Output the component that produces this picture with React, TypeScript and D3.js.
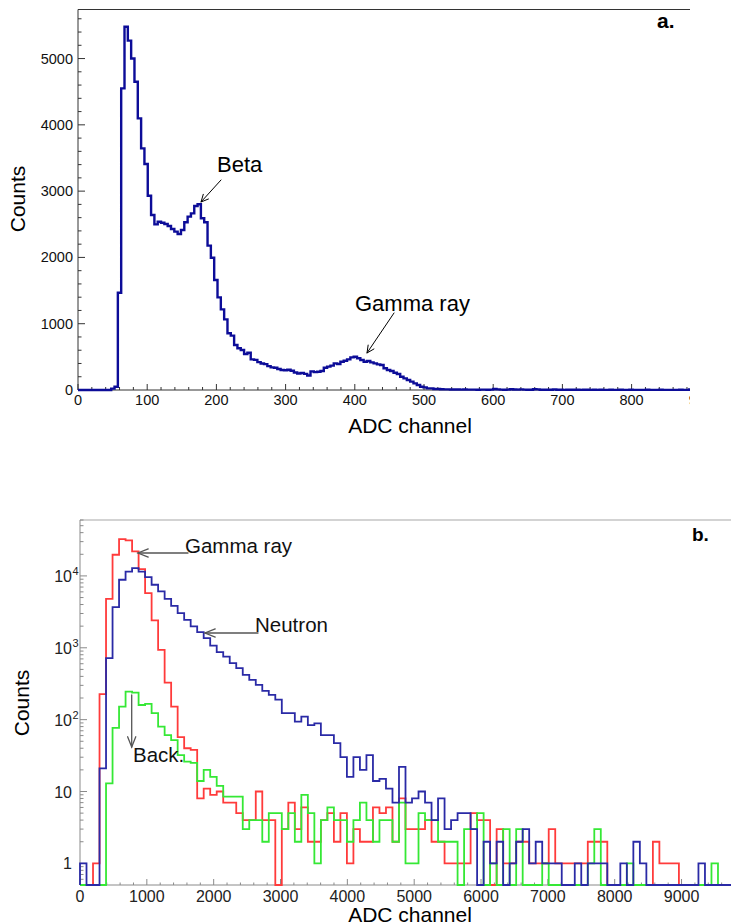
import React from 'react';
import * as d3 from 'd3';

// ---------- Panel a: single spectrum (linear counts) ----------
const SPEC_A_BIN_WIDTH = 4.8; // ADC channels per bin, first bin starts at 0
const SPEC_A_COUNTS = [
  0, 0, 0, 0, 0, 0, 0, 0, 0, 0,
  20, 50, 1468, 4550, 5480, 5270, 5000, 4650, 4098, 3645,
  3409, 2931, 2640, 2499, 2539, 2524, 2504, 2474, 2429, 2389,
  2353, 2414, 2530, 2615, 2665, 2776, 2801, 2590, 2530, 2178,
  1996, 1659, 1397, 1216, 1065, 855, 820, 679, 629, 603,
  543, 563, 462, 455, 420, 400, 390, 360, 342, 335,
  317, 302, 298, 305, 291, 265, 250, 258, 243, 218,
  281, 270, 275, 287, 335, 352, 367, 402, 392, 427,
  442, 462, 492, 502, 478, 452, 427, 437, 417, 402,
  387, 377, 327, 302, 287, 261, 241, 201, 176, 151,
  126, 100, 75, 50, 40, 25, 25, 15, 15, 12,
  10, 9, 8, 8, 7, 6, 7, 5, 6, 5,
  4, 6, 5, 4, 5, 14, 10, 6, 4, 5,
  12, 8, 5, 10, 6, 4, 3, 12, 10, 3,
  3, 4, 3, 9, 4, 3, 2, 3, 4, 3,
  3, 2, 3, 4, 2, 3, 2, 3, 2, 2,
  3, 2, 2, 3, 2, 2, 3, 2, 2, 2,
  2, 3, 2, 2, 2, 3, 2, 2, 2, 2,
  2, 3, 2, 2, 8, 2, 2,
];
const A_X_TICKS = [0, 100, 200, 300, 400, 500, 600, 700, 800, 900];
const A_Y_TICKS = [0, 1000, 2000, 3000, 4000, 5000];

// ---------- Panel b: three spectra (log counts) ----------
const SPEC_B_BIN_WIDTH = 97.4;
const GAMMA_COUNTS = [
  0, 0, 1, 226, 4800, 19700, 32500, 31200, 21900, 12400,
  5750, 2400, 935, 328, 152, 57, 40, 38, 8, 11,
  9, 10, 7, 7, 5, 4, 4, 10, 4, 4,
  0, 3, 7, 3, 6, 2, 2, 4, 5, 2,
  5, 1, 3, 2, 2, 6, 5, 6, 2, 8,
  3, 3, 3, 4, 2, 2, 1, 1, 1, 1,
  5, 4, 4, 0, 3, 1, 1, 2, 2, 1,
  1, 1, 3, 1, 1, 1, 1, 1, 2, 2,
  2, 0, 0, 0, 0, 0, 0, 0, 2, 1,
  1, 1, 0, 0, 0, 0, 0, 0, 0, 0,
];
const NEUTRON_COUNTS = [
  1, 0, 0, 21, 716, 3675, 8840, 11500, 12850, 11500,
  9620, 7530, 6080, 4790, 3830, 3030, 2450, 1980, 1650, 1360,
  1070, 868, 755, 610, 520, 420, 357, 305, 251, 221,
  190, 123, 123, 94, 110, 84, 89, 61, 61, 47,
  30, 16, 30, 20, 32, 14, 15, 11, 7, 22,
  7, 8, 10, 7, 4, 8, 3, 4, 5, 5,
  3, 0, 2, 1, 2, 0, 1, 2, 3, 1,
  2, 1, 1, 1, 0, 0, 1, 0, 1, 1,
  1, 0, 0, 1, 0, 2, 1, 0, 0, 0,
  0, 0, 0, 0, 0, 1, 0, 0, 0, 0,
];
const BACKGROUND_COUNTS = [
  0, 0, 0, 0, 13, 77, 152, 246, 238, 160,
  166, 123, 80, 61, 52, 32, 26, 25, 14, 20,
  16, 12, 8.5, 8.5, 8.5, 3, 4, 4, 2, 5,
  5, 3, 5, 2, 9, 5, 1, 4, 6, 4,
  4, 2, 4, 7, 4, 2, 4, 4, 2, 7,
  1, 1, 5, 4, 4, 2, 2, 2, 0, 3,
  3, 5, 0, 1, 0, 3, 0, 3, 0, 0,
  0, 1, 0, 0, 0, 0, 0, 0, 1, 3,
  0, 0, 0, 0, 1, 0, 0, 0, 0, 0,
  0, 0, 0, 0, 0, 0, 0, 1, 0, 0,
];
const B_X_TICKS = [0, 1000, 2000, 3000, 4000, 5000, 6000, 7000, 8000, 9000];
const B_Y_DECADES = [1, 10, 100, 1000, 10000];

const FONT = "'Liberation Sans', Arial, Helvetica, sans-serif";

// Panel a geometry
const A = { left: 78, top: 9.5, bottom: 390, axisRight: 700.8, clipRight: 690 };
// Panel b geometry
const B = { left: 80, top: 520, bottom: 885, right: 731 };

type Pt = [number, number];

function stepPoints(counts: number[], binW: number, floor: number): Pt[] {
  const pts: Pt[] = [[0, floor]];
  counts.forEach((c, i) => pts.push([i * binW, Math.max(c, floor)]));
  pts.push([counts.length * binW, Math.max(counts[counts.length - 1], floor)]);
  pts.push([counts.length * binW, floor]);
  return pts;
}

function Arrow({ x1, y1, x2, y2, color, width, head, spread }: {
  x1: number; y1: number; x2: number; y2: number; color: string; width: number; head: number; spread: number;
}) {
  const ang = Math.atan2(y2 - y1, x2 - x1);
  const a1 = ang + Math.PI - spread;
  const a2 = ang + Math.PI + spread;
  const p1 = [x2 + head * Math.cos(a1), y2 + head * Math.sin(a1)];
  const p2 = [x2 + head * Math.cos(a2), y2 + head * Math.sin(a2)];
  return (
    <g stroke={color} strokeWidth={width} fill="none" strokeLinecap="round">
      <line x1={x1} y1={y1} x2={x2} y2={y2} />
      <polyline points={`${p1[0]},${p1[1]} ${x2},${y2} ${p2[0]},${p2[1]}`} />
    </g>
  );
}

function PanelA() {
  const x = d3.scaleLinear().domain([0, 900]).range([A.left, A.axisRight]);
  const y = d3.scaleLinear().domain([0, 5740]).range([A.bottom, A.top]);
  const line = d3.line<Pt>().x(d => x(d[0])).y(d => y(d[1])).curve(d3.curveStepAfter);
  const pts = stepPoints(SPEC_A_COUNTS, SPEC_A_BIN_WIDTH, 0);
  const xMinor = d3.range(0, 901, 20).filter(v => v % 100 !== 0);
  const yMinor = d3.range(0, 5740, 200).filter(v => v % 1000 !== 0);
  const axisColor = '#333';
  return (
    <g>
      <defs>
        <clipPath id="clipA">
          <rect x={0} y={0} width={A.clipRight} height={440} />
        </clipPath>
      </defs>
      <g clipPath="url(#clipA)">
        {/* frame */}
        <line x1={A.left} y1={A.top} x2={A.axisRight} y2={A.top} stroke={axisColor} strokeWidth={1} />
        <line x1={A.left} y1={A.top} x2={A.left} y2={A.bottom} stroke={axisColor} strokeWidth={1} />
        <line x1={A.left} y1={A.bottom} x2={A.axisRight} y2={A.bottom} stroke={axisColor} strokeWidth={1} />
        {/* x ticks */}
        {A_X_TICKS.map(t => (
          <line key={'axm' + t} x1={x(t)} x2={x(t)} y1={A.bottom} y2={A.bottom - 6} stroke={axisColor} />
        ))}
        {xMinor.map(t => (
          <line key={'axn' + t} x1={x(t)} x2={x(t)} y1={A.bottom} y2={A.bottom - 3} stroke={axisColor} />
        ))}
        {A_X_TICKS.map(t => (
          <text key={'axl' + t} x={x(t)} y={405} textAnchor="middle" fontSize={14.5} fontFamily={FONT} fill="#111">{t}</text>
        ))}
        {/* y ticks */}
        {A_Y_TICKS.map(t => (
          <line key={'aym' + t} x1={A.left} x2={A.left + 7} y1={y(t)} y2={y(t)} stroke={axisColor} />
        ))}
        {yMinor.map(t => (
          <line key={'ayn' + t} x1={A.left} x2={A.left + 3.5} y1={y(t)} y2={y(t)} stroke={axisColor} />
        ))}
        {/* histogram */}
        <path d={line(pts) || ''} fill="none" stroke="#0c0c98" strokeWidth={2.4} strokeLinejoin="miter" />
        {/* panel tag */}
        <text x={657} y={28} fontSize={21} fontWeight="bold" fontFamily={FONT} fill="#000">a.</text>
      </g>
      {A_Y_TICKS.map(t => (
        <text key={'ayl' + t} x={73} y={y(t) + 5} textAnchor="end" fontSize={14.5} fontFamily={FONT} fill="#111">{t}</text>
      ))}
      {/* axis titles */}
      <text x={410} y={433} textAnchor="middle" fontSize={21} fontFamily={FONT} fill="#000">ADC channel</text>
      <text transform="translate(25,199) rotate(-90)" textAnchor="middle" fontSize={21} fontFamily={FONT} fill="#000">Counts</text>
      {/* annotations */}
      <text x={217} y={172} fontSize={22} fontFamily={FONT} fill="#000">Beta</text>
      <Arrow x1={221} y1={180} x2={201} y2={202} color="#000" width={1} head={8} spread={0.45} />
      <text x={355} y={311} fontSize={22} fontFamily={FONT} fill="#000">Gamma ray</text>
      <Arrow x1={394} y1={313} x2={367} y2={353} color="#000" width={1} head={8} spread={0.45} />
    </g>
  );
}

function supLabel(v: number) {
  if (v === 1 || v === 10) return { base: String(v), sup: '' };
  return { base: '10', sup: String(Math.round(Math.log10(v))) };
}

function PanelB() {
  const x = d3.scaleLinear().domain([0, 9740]).range([B.left, B.right]);
  const y = d3.scaleLog().domain([0.5, 60000]).range([B.bottom, B.top]);
  const line = d3.line<Pt>().x(d => x(d[0])).y(d => y(d[1])).curve(d3.curveStepAfter);
  const floor = 0.5;
  const xMinor = d3.range(0, 9741, 200).filter(v => v % 1000 !== 0);
  const yMinor: number[] = [];
  [0.1, 1, 10, 100, 1000, 10000].forEach(dec => {
    for (let m = 2; m <= 9; m++) {
      const v = m * dec;
      if (v >= 0.5 && v <= 60000) yMinor.push(v);
    }
  });
  const axisColor = '#8a8a8a';
  const series = [
    { name: 'gamma', counts: GAMMA_COUNTS, color: '#ff3b3b' },
    { name: 'background', counts: BACKGROUND_COUNTS, color: '#35e835' },
    { name: 'neutron', counts: NEUTRON_COUNTS, color: '#2a2aa6' },
  ];
  return (
    <g>
      <defs>
        <clipPath id="clipB">
          <rect x={B.left - 1} y={B.top} width={B.right - B.left + 2} height={B.bottom - B.top + 1.5} />
        </clipPath>
      </defs>
      {/* frame */}
      <line x1={B.left} y1={B.top} x2={B.right} y2={B.top} stroke="#a8a8a8" strokeWidth={1.2} />
      <line x1={B.left} y1={B.top} x2={B.left} y2={B.bottom} stroke={axisColor} strokeWidth={1} />
      <line x1={B.left} y1={B.bottom} x2={B.right} y2={B.bottom} stroke={axisColor} strokeWidth={1} />
      {B_X_TICKS.map(t => (
        <line key={'bxm' + t} x1={x(t)} x2={x(t)} y1={B.bottom} y2={B.bottom - 6} stroke={axisColor} />
      ))}
      {xMinor.map(t => (
        <line key={'bxn' + t} x1={x(t)} x2={x(t)} y1={B.bottom} y2={B.bottom - 2.5} stroke={axisColor} />
      ))}
      {B_Y_DECADES.map(t => (
        <line key={'bym' + t} x1={B.left} x2={B.left + 7} y1={y(t)} y2={y(t)} stroke={axisColor} />
      ))}
      {yMinor.map(t => (
        <line key={'byn' + t} x1={B.left} x2={B.left + 3.5} y1={y(t)} y2={y(t)} stroke={axisColor} />
      ))}
      {B_X_TICKS.map(t => (
        <text key={'bxl' + t} x={x(t)} y={902} textAnchor="middle" fontSize={16} fontFamily={FONT} fill="#222">{t}</text>
      ))}
      {B_Y_DECADES.map(t => {
        const l = supLabel(t);
        return (
          <g key={'byl' + t}>
            <text x={72} y={y(t) + 6} textAnchor="end" fontSize={16} fontFamily={FONT} fill="#222">{l.base}</text>
            {l.sup && (
              <text x={72.5} y={y(t) - 1} fontSize={11} fontFamily={FONT} fill="#222">{l.sup}</text>
            )}
          </g>
        );
      })}
      <g clipPath="url(#clipB)">
        {series.map(s => (
          <path key={s.name} d={line(stepPoints(s.counts, SPEC_B_BIN_WIDTH, floor)) || ''}
            fill="none" stroke={s.color} strokeWidth={1.8} strokeLinejoin="miter" />
        ))}
      </g>
      <text x={692} y={541} fontSize={19} fontWeight="bold" fontFamily={FONT} fill="#000">b.</text>
      {/* axis titles */}
      <text x={410} y={922} textAnchor="middle" fontSize={21} fontFamily={FONT} fill="#000">ADC channel</text>
      <text transform="translate(29,703) rotate(-90)" textAnchor="middle" fontSize={21} fontFamily={FONT} fill="#000">Counts</text>
      {/* annotations */}
      <text x={185} y={553} fontSize={20.5} fontFamily={FONT} fill="#111">Gamma ray</text>
      <Arrow x1={188} y1={553} x2={138} y2={553} color="#555" width={1.3} head={11} spread={0.38} />
      <text x={255} y={632} fontSize={20.5} fontFamily={FONT} fill="#111">Neutron</text>
      <Arrow x1={258} y1={633} x2={205} y2={633} color="#555" width={1.3} head={11} spread={0.38} />
      <text x={133} y={762} fontSize={20.5} fontFamily={FONT} fill="#111">Back.</text>
      <Arrow x1={131.7} y1={695} x2={131.7} y2={747} color="#555" width={1.3} head={11} spread={0.38} />
    </g>
  );
}

export default function App() {
  return (
    <svg width={731} height={924} viewBox="0 0 731 924"
      style={{ position: 'absolute', left: 0, top: 0, background: '#fff' }}>
      <rect x={0} y={0} width={731} height={924} fill="#fff" />
      <PanelA />
      <PanelB />
    </svg>
  );
}
